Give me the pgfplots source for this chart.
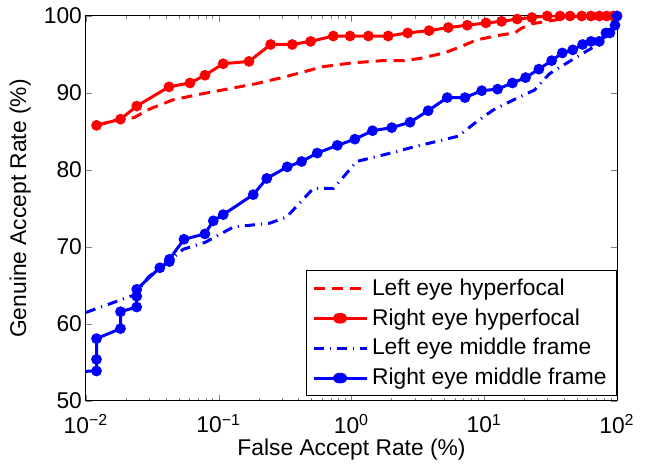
\documentclass[border=0pt]{standalone}
\usepackage{fontspec}
\setmainfont{Liberation Sans}
\usepackage{pgfplots}
\pgfplotsset{compat=1.18}
\usetikzlibrary{calc}

\newcommand{\figfont}{\fontsize{11.4}{13.7}\selectfont}

\begin{document}
\begin{tikzpicture}[font=\figfont]
\begin{axis}[
    scale only axis,
    width=265.5pt, height=192.5pt,
    xmode=log,
    xmin=0.01, xmax=100,
    ymin=50, ymax=100,
    xtick={0.01,0.1,1,10,100},
    xticklabels={10\textsuperscript{−2},10\textsuperscript{−1},10\textsuperscript{0},10\textsuperscript{1},10\textsuperscript{2}},
    ytick={50,60,70,80,90,100},
    yticklabels={50,60,70,80,90,100},
    tick label style={font=\figfont},
    xticklabel style={yshift=-3pt},
    yticklabel style={xshift=1.5pt},
    label style={font=\figfont},
    xlabel={False Accept Rate (\%)},
    ylabel={Genuine Accept Rate (\%)},
    xlabel style={at={(axis description cs:0.5,0)}, anchor=north, yshift=-15.5pt},
    ylabel style={at={(axis description cs:0,0.5)}, anchor=south, yshift=24pt},
    tick align=inside,
    major tick length=3pt,
    minor tick length=1.6pt,
    axis line style={line width=0.5pt},
    legend cell align=left,
    legend style={at={(1,0.012)}, anchor=south east, font=\figfont,
        draw=black, line width=0.5pt, inner xsep=3pt, inner ysep=2pt,
        row sep=1.2pt},
    legend image post style={xscale=1.55},
]
% Left eye hyperfocal
\addplot[red, line width=1.5pt, dash pattern=on 5.5pt off 3.5pt] coordinates {
    (0.012,85.8) (0.018,86.6) (0.023,86.8) (0.03,87.9) (0.045,89.1)
    (0.07,89.8) (0.1,90.3) (0.19,91.2) (0.3,92.0) (0.45,92.8) (0.6,93.4)
    (1.0,93.9) (1.7,94.2) (2.5,94.2) (3.3,94.5) (5.0,95.2) (6.4,95.9)
    (8.8,96.9) (13,97.5) (17,97.8) (19,98.4) (23,99.0) (35,99.5) (50,100)
    (100,100)
};
\addlegendentry{Left eye hyperfocal}
% Right eye hyperfocal
\addplot[red, line width=1.5pt, mark=*, mark size=1.9pt] coordinates {
    (0.012,85.8) (0.0182,86.6) (0.0241,88.3) (0.0422,90.8) (0.0607,91.3)
    (0.0787,92.3) (0.108,93.8) (0.169,94.1) (0.246,96.3) (0.358,96.3)
    (0.492,96.7) (0.73,97.4) (0.975,97.4) (1.34,97.4) (1.89,97.4)
    (2.65,97.8) (3.84,98.1) (5.36,98.5) (7.45,98.8) (10.3,99.1)
    (13.5,99.3) (17.7,99.6) (22.8,99.8) (29.8,100) (37.2,100) (44.3,100)
    (54.2,100) (63.7,100) (73.6,100) (83.6,100) (93.8,100) (100,100)
};
\addlegendentry{Right eye hyperfocal}
% Left eye middle frame
\addplot[blue, line width=1.5pt, dash pattern=on 5pt off 3pt on 0.6pt off 3pt] coordinates {
    (0.01,61.5) (0.0234,63.8) (0.0295,66.1) (0.043,68.3) (0.054,69.7)
    (0.079,70.6) (0.129,72.6) (0.243,73.1) (0.325,73.9) (0.515,77.6)
    (0.73,77.6) (0.87,79.1) (1.09,81.1) (2.2,82.4) (2.8,82.9) (6.4,84.4)
    (8.5,86.1) (11.7,87.8) (17.5,89.3) (24,90.4) (31,92.5) (42,93.9)
    (56,95.2) (70,96.2) (86,97.8) (100,100)
};
\addlegendentry{Left eye middle frame}
% Right eye middle frame
\addplot[blue, line width=1.5pt, mark=*, mark size=1.9pt] coordinates {
    (0.012,53.9) (0.012,55.4) (0.012,58.1) (0.0182,59.4) (0.0182,61.6)
    (0.0241,62.2) (0.0241,63.6) (0.0241,64.5) (0.036,67.3) (0.0425,68.1)
    (0.0425,68.4) (0.0547,71.0) (0.0787,71.7) (0.091,73.4) (0.108,74.2)
    (0.182,76.8) (0.23,78.9) (0.328,80.4) (0.421,81.1) (0.552,82.2)
    (0.782,83.2) (1.06,84.0) (1.44,85.1) (2.01,85.5) (2.76,86.2)
    (3.78,87.7) (5.26,89.4) (7.16,89.4) (9.57,90.3) (12.6,90.5)
    (16.3,91.3) (20.5,92.0) (25.8,93.1) (32.2,94.2) (38.7,95.2)
    (46.4,95.6) (55.1,96.3) (63.7,96.7) (73.6,96.7) (82.6,97.8)
    (88.5,97.8) (96.6,98.8) (100,100)
};
\addlegendentry{Right eye middle frame}
\addplot[blue, line width=1.5pt, forget plot] coordinates {
    (0.008,53.8) (0.012,53.9)
};
\end{axis}
\pgfresetboundingbox
\useasboundingbox ($(current axis.south west)+(-43pt,-31.5pt)$) rectangle ($(current axis.north east)+(14pt,8pt)$);
\end{tikzpicture}
\end{document}
